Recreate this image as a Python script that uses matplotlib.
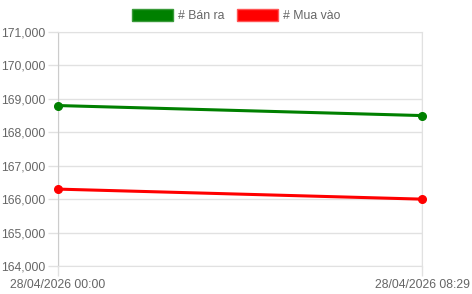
import matplotlib.pyplot as plt
from matplotlib.patches import Patch
from matplotlib.ticker import FuncFormatter
from matplotlib.transforms import ScaledTranslation

plt.rcParams['font.family'] = ['Liberation Sans', 'DejaVu Sans']

labels = ["28/04/2026 00:00", "28/04/2026 08:29"]
ban_ra = [168800, 168500]
mua_vao = [166300, 166000]
green = "#008000"
red = "#ff0000"
grid_c = "#e1e1e1"
text_c = "#666666"

fig = plt.figure(figsize=(4.72, 2.94), dpi=100)
ax = fig.add_axes([58 / 472, 28 / 294, 364 / 472, 234 / 294])

x = list(range(len(labels)))
ax.plot(x, ban_ra, color=green, lw=2.2, marker="o", ms=5.5, clip_on=False, zorder=3)
ax.plot(x, mua_vao, color=red, lw=2.2, marker="o", ms=5.5, clip_on=False, zorder=3)

ax.set_xlim(0, 1)
ax.set_ylim(164000, 171000)
ax.set_yticks(range(164000, 171001, 1000))
ax.yaxis.set_major_formatter(FuncFormatter(lambda v, p: f"{int(v):,}"))
ax.set_xticks(x)
ax.set_xticklabels(labels)
ax.grid(True, color=grid_c, lw=1)
ax.set_axisbelow(True)
for s in ax.spines.values():
    s.set_color(grid_c)
ax.spines["left"].set_color("#cccccc")
ax.tick_params(colors=grid_c, labelcolor=text_c, labelsize=8.8, length=7, width=1)
ax.tick_params(axis="y", pad=2)
ax.tick_params(axis="x", pad=2)
tl = ax.get_xticklabels()
tl[-1].set_ha("right")
tl[-1].set_transform(tl[-1].get_transform() + ScaledTranslation(48 / 100, 0, fig.dpi_scale_trans))

handles = [Patch(facecolor=green, edgecolor="#3a9a3a", label="# Bán ra"),
           Patch(facecolor=red, edgecolor="#ff5555", label="# Mua vào")]
fig.legend(handles=handles, loc="upper center", bbox_to_anchor=(0.5, 1.0), ncol=2,
           frameon=False, fontsize=8.8, handlelength=3.4, handleheight=1.2,
           handletextpad=0.4, columnspacing=1.0, labelcolor=text_c, borderaxespad=0.3)

fig.savefig("out.png", dpi=100)
